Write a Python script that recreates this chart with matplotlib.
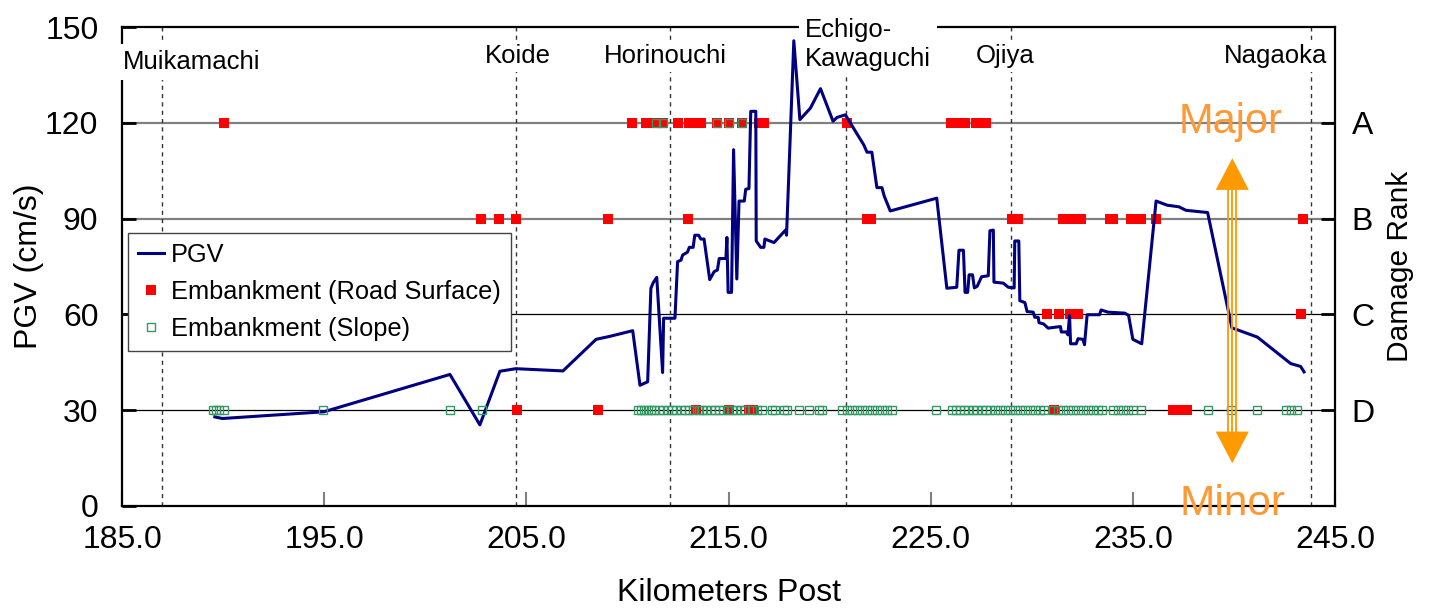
import matplotlib
matplotlib.use('Agg')
import matplotlib.pyplot as plt

plt.rcParams['font.family'] = ['Liberation Sans', 'DejaVu Sans']

# PGV along the route (km post, cm/s)
pgv_km = [189.59, 189.96, 194.98, 201.22, 202.70, 203.69, 204.48, 206.81, 208.45, 209.11,
          210.26, 210.62, 211.00, 211.16, 211.28, 211.45, 211.74, 211.79, 212.35, 212.48,
          212.65, 212.73, 212.97, 213.06, 213.25, 213.33, 213.52, 213.63, 213.79, 214.07,
          214.29, 214.45, 214.54, 214.87, 214.92, 214.98, 215.15, 215.25, 215.41, 215.52,
          215.78, 215.85, 216.01, 216.10, 216.35, 216.37, 216.59, 216.75, 216.80, 217.25,
          217.82, 217.87, 218.23, 218.53, 219.05, 219.55, 220.17, 220.37, 220.78, 221.35,
          221.69, 221.85, 222.09, 222.34, 222.59, 222.70, 223.00, 225.30, 225.80, 226.29,
          226.40, 226.62, 226.70, 226.83, 226.90, 227.07, 227.16, 227.30, 227.52, 227.85,
          227.93, 228.10, 228.13, 228.59, 228.84, 229.13, 229.16, 229.36, 229.41, 229.66,
          229.77, 230.07, 230.15, 230.32, 230.36, 230.59, 230.81, 231.42, 231.46, 231.70,
          231.79, 231.87, 231.92, 232.20, 232.29, 232.53, 232.61, 232.74, 233.35, 233.43,
          233.77, 234.60, 234.79, 235.00, 235.44, 236.15, 236.70, 237.28, 237.63, 238.70,
          239.90, 241.16, 242.81, 243.30, 243.47]
pgv = [27.9, 27.4, 29.5, 41.2, 25.4, 42.2, 43.0, 42.3, 52.2, 53.1,
       54.9, 37.8, 38.9, 68.2, 70.0, 71.6, 41.8, 58.8, 58.8, 76.5,
       77.0, 78.6, 79.5, 81.0, 81.0, 84.8, 84.8, 83.6, 83.6, 70.9,
       73.4, 73.9, 77.5, 77.5, 84.1, 66.9, 66.9, 111.6, 71.1, 95.5,
       95.5, 99.2, 99.4, 123.6, 123.6, 83.0, 81.0, 81.0, 83.6, 82.5,
       86.4, 84.8, 145.7, 121.0, 124.6, 130.7, 120.5, 121.7, 122.5, 116.6,
       113.1, 110.8, 110.8, 99.7, 99.7, 97.1, 92.4, 96.4, 68.2, 68.5,
       80.1, 80.1, 66.9, 66.9, 72.4, 72.4, 68.3, 68.8, 71.8, 72.1,
       86.2, 86.4, 70.1, 69.8, 68.5, 68.3, 83.0, 83.0, 64.3, 63.7,
       60.9, 60.7, 59.1, 59.1, 57.4, 57.0, 55.7, 56.2, 54.5, 54.5,
       53.6, 59.7, 50.8, 50.8, 52.4, 52.2, 50.5, 59.9, 59.9, 61.4,
       60.7, 60.4, 59.7, 52.2, 50.8, 95.5, 94.2, 93.7, 92.6, 91.9,
       55.8, 52.9, 44.6, 43.7, 42.0]

# damage rank levels on the PGV scale
rank_names = ['D', 'C', 'B', 'A']
rank_levels = [30, 60, 90, 120]

# embankment damage, road surface (km post by rank)
road_a = [190.05, 210.23, 210.92, 211.05, 211.41, 211.74, 212.50, 213.06, 213.22, 213.63,
          214.45, 215.03, 215.68, 216.51, 216.75, 220.86, 226.00, 226.25, 226.50, 226.70,
          227.25, 227.50, 227.75]
road_b = [202.75, 203.64, 204.48, 209.06, 213.02, 221.85, 222.06, 229.00, 229.33, 231.55,
          231.88, 232.21, 232.45, 233.85, 234.01, 234.92, 235.41, 236.15, 243.43]
road_c = [230.77, 231.35, 231.88, 232.12, 232.29, 243.30]
road_d = [204.55, 208.56, 213.40, 215.00, 216.00, 216.20, 231.10, 237.00, 237.50, 237.70]

# embankment damage, slope (km post by rank)
slope_a = [211.41, 211.74, 214.45, 215.03, 215.68]
slope_d = [189.50, 189.65, 189.80, 190.05, 194.93, 201.22, 202.82,
           210.51, 210.67, 210.84, 211.00, 211.17, 211.33, 211.55, 211.74, 211.99, 212.20,
           212.40, 212.65, 212.86, 213.06, 213.25, 213.52, 213.71, 213.91, 214.13, 214.34,
           214.54, 214.73, 214.95, 215.19, 215.39, 215.61, 215.82, 216.18, 216.43, 216.67,
           217.17, 217.30, 217.74, 217.90, 218.48, 218.97, 219.47, 219.63,
           220.62, 220.86, 221.11, 221.35, 221.60, 221.85, 222.10, 222.34, 222.59, 222.84,
           223.08, 225.25, 226.04, 226.24, 226.45, 226.67, 226.86, 227.08, 227.29, 227.52,
           227.74, 227.95, 228.18, 228.43, 228.67, 228.92, 229.17, 229.41, 229.66, 229.91,
           230.15, 230.40, 230.61, 231.05, 231.30, 231.55, 231.79, 232.04, 232.29, 232.53,
           232.78, 233.03, 233.27, 233.49, 234.01, 234.26, 234.51, 234.75, 235.00, 235.38,
           238.70, 239.85, 241.13, 242.56, 242.81, 243.14]

# stations along the line, and where their names sit
stations = ['Muikamachi', 'Koide', 'Horinouchi', 'Echigo-\nKawaguchi', 'Ojiya', 'Nagaoka']
station_km = [187.0, 204.5, 212.1, 220.8, 228.95, 243.8]
label_km = [185.05, 204.6, 211.9, 218.78, 228.7, 242.05]

x_ticks = [185, 195, 205, 215, 225, 235, 245]
y_ticks = [0, 30, 60, 90, 120, 150]

navy = '#000080'
red = '#FF0000'
green = '#339966'
orange = '#FF9900'
light_orange = '#FF9933'

fig = plt.figure(figsize=(14.31, 6.10), dpi=100)
ax = fig.add_axes([0.0853, 0.1705, 0.8476, 0.7852])
ax.set_xlim(185, 245)
ax.set_ylim(0, 150)

# rank reference lines
for lvl in rank_levels:
    if lvl >= 90:
        ax.axhline(lvl, color='#808080', lw=1.6, zorder=1)
    else:
        ax.axhline(lvl, color='black', lw=0.9, zorder=1)

for km in station_km:
    ax.axvline(km, color='#333333', lw=1.0, ls=(0, (3, 3)), zorder=1)

ms = 6.5
ax.plot(road_a, [rank_levels[3]] * len(road_a), 's', color=red, ms=ms, mew=0, zorder=3)
ax.plot(road_b, [rank_levels[2]] * len(road_b), 's', color=red, ms=ms, mew=0, zorder=3)
ax.plot(road_c, [rank_levels[1]] * len(road_c), 's', color=red, ms=ms, mew=0, zorder=3)
ax.plot(road_d, [rank_levels[0]] * len(road_d), 's', color=red, ms=ms, mew=0, zorder=3)
ax.plot(slope_a, [rank_levels[3]] * len(slope_a), 's', mfc='none', mec=green, ms=6, mew=1.0, zorder=5)
ax.plot(slope_d, [rank_levels[0]] * len(slope_d), 's', mfc='none', mec=green, ms=6, mew=1.0, zorder=5)
ax.plot(pgv_km, pgv, color=navy, lw=2.2, zorder=4)

# legend proxies
h_pgv, = ax.plot([], [], color=navy, lw=2.2, label='PGV')
h_road, = ax.plot([], [], 's', color=red, ms=ms, mew=0, label='Embankment (Road Surface)')
h_slope, = ax.plot([], [], 's', mfc='none', mec=green, ms=6, mew=1.0, label='Embankment (Slope)')
leg = ax.legend(handles=[h_pgv, h_road, h_slope], loc='upper left',
                bbox_to_anchor=(0.005, 0.571), borderaxespad=0, fontsize=18.3,
                fancybox=False, framealpha=1, edgecolor='#444444',
                handlelength=1.0, handletextpad=0.3, labelspacing=0.52,
                borderpad=0.4)
leg.get_frame().set_linewidth(1.0)
leg.set_zorder(6)

# station names on white boxes over the frame
box = dict(facecolor='white', edgecolor='none', pad=4)
for name, km in zip(stations, label_km):
    if name == 'Muikamachi':
        ax.text(km, 139, name, ha='left', va='center', fontsize=18.5, bbox=box, zorder=7)
    elif '\n' in name:
        ax.text(km, 144.5, name, ha='left', va='center', fontsize=18.5,
                linespacing=1.25, bbox=box, zorder=7, clip_on=False)
    else:
        ax.text(km, 141, name, ha='center', va='center', fontsize=18.5,
                bbox=dict(facecolor='white', edgecolor='none', pad=3), zorder=7)

# damage scale arrow
arrow_x = 239.92
for dx in (-0.2, 0.0, 0.2):
    ax.plot([arrow_x + dx] * 2, [23.3, 99.0], color=orange, lw=1.3, zorder=6)
ax.fill([arrow_x - 0.82, arrow_x + 0.82, arrow_x], [99.0, 99.0, 108.9],
        color=orange, lw=0, zorder=6)
ax.fill([arrow_x - 0.82, arrow_x + 0.82, arrow_x], [23.3, 23.3, 13.4],
        color=orange, lw=0, zorder=6)
ax.text(arrow_x - 0.1, 116.8, 'Major', ha='center', va='baseline', fontsize=30,
        color=light_orange, zorder=6)
ax.text(arrow_x, -2.8, 'Minor', ha='center', va='baseline', fontsize=30.5,
        color=light_orange, zorder=6, clip_on=False)

ax.set_xticks(x_ticks)
ax.set_xticklabels(['%.1f' % v for v in x_ticks])
ax.set_yticks(y_ticks)
ax.tick_params(axis='x', direction='in', length=10, width=1.5, color='#808080',
               labelsize=23, pad=14)
ax.tick_params(axis='y', direction='in', length=10, width=2, color='black',
               labelsize=23, pad=17)
ax.set_xlabel('Kilometers Post', fontsize=23, labelpad=16)
ax.set_ylabel('PGV (cm/s)', fontsize=23, labelpad=1)
for s in ax.spines.values():
    s.set_linewidth(1.6)

ax2 = ax.twinx()
ax2.set_ylim(0, 150)
ax2.set_yticks(rank_levels)
ax2.set_yticklabels(rank_names)
ax2.tick_params(axis='y', direction='in', length=10, width=2, labelsize=23, pad=12)
ax2.set_ylabel('Damage Rank', fontsize=21.5, labelpad=8)
for s in ax2.spines.values():
    s.set_visible(False)

fig.savefig('out.png', dpi=100)
